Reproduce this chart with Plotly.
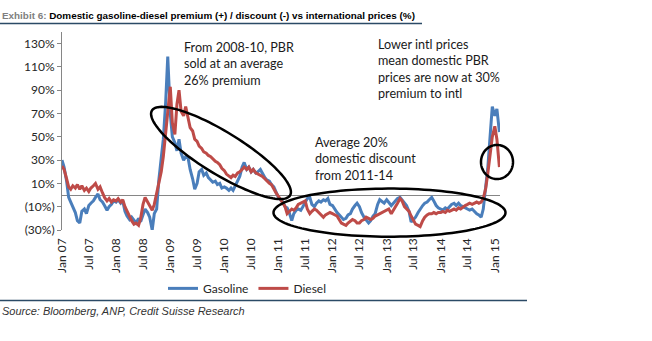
import numpy as np
import pandas as pd
import plotly.graph_objects as go

# Semi-monthly observation dates (1st and 15th), Jan 2007 - Feb 2015
dates = pd.date_range("2007-01-01", "2015-02-01", freq="SMS")

# Domestic premium (+) / discount (-) vs international prices, %
gasoline = [
    30, 24, 12, -2, -6, -10, -15, -22, -24, -14, -12, -16, -9, -7, -5, -2, 1, -4, -6, -9, -13, -10, -8, -5,  # 2007
    -6, -4, -7, -5, -14, -18, -21, -19, -22, -24, -20, -23, -17, -12, -15, -19, -30, -16, -12, 12, 32, 48, 80, 119,  # 2008
    70, 50, 45, 38, 48, 36, 30, 33, 32, 22, 14, 5, 10, 20, 22, 17, 19, 15, 13, 11, 12, 9, 10, 6,  # 2009
    7, 6, 4, 6, 4, 8, 12, 16, 24, 28, 22, 24, 20, 22, 19, 20, 22, 18, 15, 13, 12, 9, 7, 3,  # 2010
    -2, -4, -6, -10, -11, -15, -22, -16, -13, -12, -13, -10, -6, -3, -2, -8, -10, -7, -5, -6, -4, -5, -3, -8,  # 2011
    -9, -12, -15, -17, -19, -21, -20, -17, -16, -12, -9, -7, -10, -15, -19, -21, -24, -22, -18, -16, -8, -4, -6, -7,  # 2012
    -4, -6, -9, -7, -5, -3, -2, -4, -7, -9, -14, -23, -21, -19, -15, -12, -9, -7, -6, -4, -2, -5, -9, -11,  # 2013
    -12, -13, -11, -12, -10, -8, -7, -9, -7, -9, -10, -11, -12, -13, -12, -14, -16, -17, -19, -12, 8, 24, 52, 76,  # 2014
    68, 74, 54,  # 2015
]
diesel = [
    25, 22, 14, 7, 5, 8, 6, 9, 5, 8, 4, 6, 3, 6, 8, 10, 5, 7, 2, -2, -5, -3, -6, -4,  # 2007
    -5, -3, -6, -4, -10, -14, -18, -22, -25, -24, -26, -20, -8, -2, -6, -9, -13, -8, 2, 9, 20, 33, 52, 72,  # 2008
    93, 62, 52, 78, 90, 72, 68, 76, 65, 58, 55, 48, 46, 42, 40, 37, 36, 34, 33, 31, 29, 28, 26, 23,  # 2009
    21, 18, 16, 15, 17, 16, 19, 20, 22, 24, 22, 24, 20, 22, 19, 18, 17, 16, 14, 12, 10, 9, 5, 2,  # 2010
    -1, -4, -7, -10, -16, -14, -12, -13, -11, -8, -7, -6, -5, -12, -16, -14, -12, -13, -15, -17, -19, -17, -16, -15,  # 2011
    -16, -17, -18, -21, -24, -25, -26, -24, -22, -21, -22, -24, -24, -22, -21, -19, -20, -21, -20, -18, -17, -16, -15, -14,  # 2012
    -13, -12, -16, -13, -11, -7, -3, -5, -10, -12, -14, -18, -22, -25, -26, -27, -22, -19, -17, -16, -16, -15, -16, -15,  # 2013
    -15, -14, -15, -13, -14, -13, -12, -13, -11, -12, -10, -9, -8, -7, -8, -7, -6, -7, -6, -3, 6, 19, 36, 50,  # 2014
    59, 48, 24,  # 2015
]

y_ticks = [-30, -10, 10, 30, 50, 70, 90, 110, 130]
y_tick_text = ["(30%)", "(10%)", "10%", "30%", "50%", "70%", "90%", "110%", "130%"]
y_range = [-30, 140]
x_range = ["2007-01-01", "2015-02-05"]

notes = [
    "From 2008-10, PBR<br>sold at an average<br>26% premium",
    "Lower intl prices<br>mean domestic PBR<br>prices are now at 30%<br>premium to intl",
    "Average 20%<br>domestic discount<br>from 2011-14",
]

W, H = 652, 341
ML, MR, MT, MB = 62, 152, 32.4, 111.2
PW, PH = W - ML - MR, H - MT - MB

BLUE = "#4A7EBB"
RED = "#BE4B48"
AXIS = "#868686"
FONT = "Lato"


def px(x):
    return (x - ML) / PW


def py(y):
    return (MT + PH - y) / PH


def ellipse_path(cx, cy, rx, ry, deg, n=120):
    th = np.linspace(0, 2 * np.pi, n)
    a = np.radians(deg)
    xs = cx + rx * np.cos(th) * np.cos(a) - ry * np.sin(th) * np.sin(a)
    ys = cy + rx * np.cos(th) * np.sin(a) + ry * np.sin(th) * np.cos(a)
    pts = [f"{px(x):.5f},{py(y):.5f}" for x, y in zip(xs, ys)]
    return "M " + " L ".join(pts) + " Z"


fig = go.Figure()
fig.add_trace(go.Scatter(x=dates, y=gasoline, name="Gasoline", mode="lines",
                         line=dict(color=BLUE, width=3)))
fig.add_trace(go.Scatter(x=dates, y=diesel, name="Diesel", mode="lines",
                         line=dict(color=RED, width=3)))

zero_pos = (0 - y_range[0]) / (y_range[1] - y_range[0])

fig.update_layout(
    width=W, height=H,
    margin=dict(l=ML, r=MR, t=MT, b=MB, pad=0),
    paper_bgcolor="white", plot_bgcolor="white",
    font=dict(family=FONT, size=12, color="#262626"),
    xaxis=dict(type="date", range=x_range, tick0="2007-01-01", dtick="M6",
               tickformat="%b %y", tickangle=-90, ticks="", showline=False,
               showgrid=False, zeroline=False, ticklabelstandoff=5,
               tickfont=dict(family=FONT, size=12, color="#262626")),
    xaxis2=dict(type="date", overlaying="x", matches="x", anchor="free",
                position=zero_pos, side="bottom", showticklabels=False,
                ticks="outside", ticklen=4, tickcolor=AXIS, tick0="2007-01-01",
                dtick="M6", showline=False, showgrid=False, zeroline=False,
                layer="below traces"),
    yaxis=dict(range=y_range, tickvals=y_ticks, ticktext=y_tick_text,
               ticks="outside", ticklen=4, tickcolor=AXIS, showline=True,
               linecolor=AXIS, linewidth=1, showgrid=False, zeroline=True,
               zerolinecolor=AXIS, zerolinewidth=1,
               tickfont=dict(family=FONT, size=12, color="#262626")),
    legend=dict(orientation="h", x=px(163), xanchor="left", y=py(288),
                yanchor="middle", font=dict(family=FONT, size=12, color="#262626"),
                bgcolor="rgba(0,0,0,0)", itemwidth=30),
    showlegend=True,
)

# Callout ellipses
shape_line = dict(color="black", width=2.5)
fig.add_shape(type="path", xref="paper", yref="paper",
              path=ellipse_path(221, 153, 81, 21, 31.5), line=shape_line)
fig.add_shape(type="path", xref="paper", yref="paper",
              path=ellipse_path(389.5, 212.5, 116, 24, 0), line=shape_line)
fig.add_shape(type="path", xref="paper", yref="paper",
              path=ellipse_path(497, 162, 16, 17, 0), line=shape_line)

# Header underline and footer rule
fig.add_shape(type="line", xref="paper", yref="paper", x0=px(0), x1=px(422),
              y0=py(24), y1=py(24), line=dict(color="#2B4A66", width=1.5))
fig.add_shape(type="line", xref="paper", yref="paper", x0=px(0), x1=px(527),
              y0=py(300), y1=py(300), line=dict(color="#2B4A66", width=1.5))

# Callout text
for txt, x, yc in zip(notes, [182, 376, 313], [64, 69.7, 159.2]):
    fig.add_annotation(text=txt, xref="paper", yref="paper", x=px(x), y=py(yc),
                       xanchor="left", yanchor="middle", align="left",
                       showarrow=False, font=dict(family=FONT, size=12.6, color="#1a1a1a"))

# Title and source
fig.add_annotation(
    text="<span style='color:#808080'>Exhibit 6:</span> Domestic gasoline-diesel premium (+) / discount (-) vs international prices (%)",
    xref="paper", yref="paper", x=px(0), y=py(16), xanchor="left", yanchor="middle",
    showarrow=False, font=dict(family="Liberation Sans", size=9.9, color="black", weight="bold"))
fig.add_annotation(
    text="<i>Source: Bloomberg, ANP, Credit Suisse Research</i>",
    xref="paper", yref="paper", x=px(0), y=py(311), xanchor="left", yanchor="middle",
    showarrow=False, font=dict(family="Liberation Sans", size=11, color="#333333"))

fig.write_html("out.html")
